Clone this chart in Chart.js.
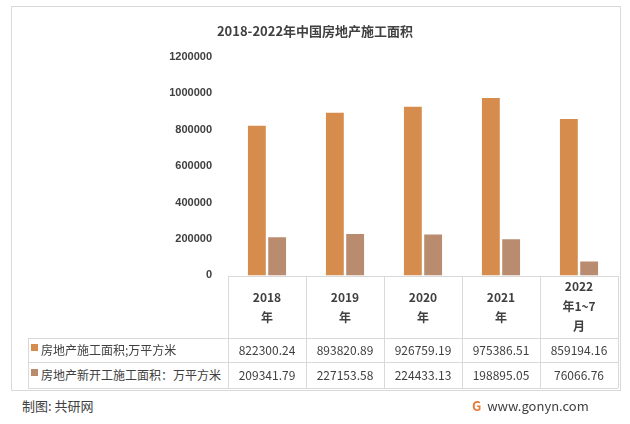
<!DOCTYPE html><html><head><meta charset="utf-8"><script src="https://cdn.jsdelivr.net/npm/chart.js@4"></script>
<style>body{margin:0;width:630px;height:424px;position:relative;font-family:"Noto Sans CJK SC","Noto Sans",sans-serif;background:#fff;overflow:hidden}
#box{position:absolute;left:11px;top:6px;width:608px;height:383px;border:1px solid #d9d9d9}
#c{position:absolute;left:0;top:0}
#title{position:absolute;left:0;width:630px;top:21px;text-align:center;font-weight:bold;font-size:13px;color:#404040}
.t{position:absolute;font-size:12px;color:#404040;text-align:center}
.v{position:absolute;background:#d9d9d9;width:1px}.h{position:absolute;background:#d9d9d9;height:1px}
</style></head><body><div id="box"></div>
<canvas id="c" width="630" height="290" style="width:630px;height:290px"></canvas>
<div id="title">2018-2022年中国房地产施工面积</div><div id="tbl"></div>
<div class="t" style="left:22px;top:396px;font-size:13px;text-align:left">制图: 共研网</div>
<div class="t" style="left:472px;top:396px;font-size:13px;text-align:left"><span style="color:#e87b3a;font-weight:bold">G</span>&nbsp; www.gonyn.com</div>
<script>
const categories=["2018\n年","2019\n年","2020\n年","2021\n年","2022\n年1~7\n月"];
const seriesNames=["房地产施工面积;万平方米","房地产新开工施工面积：万平方米"];
const s1=[822300.24,893820.89,926759.19,975386.51,859194.16];
const s2=[209341.79,227153.58,224433.13,198895.05,76066.76];
const colors=["#D58C4C","#B98C70"];
new Chart(document.getElementById('c'),{type:'bar',data:{labels:categories,datasets:[
{label:seriesNames[0],data:s1,backgroundColor:colors[0],categoryPercentage:0.52,barPercentage:0.88},
{label:seriesNames[1],data:s2,backgroundColor:colors[1],categoryPercentage:0.52,barPercentage:0.88}]},
options:{responsive:false,animation:false,plugins:{legend:{display:false},tooltip:{enabled:false}},
layout:{padding:{top:57,bottom:14,right:12,left:0}},
scales:{x:{display:false},
y:{min:0,max:1200000,ticks:{stepSize:200000,padding:8,color:'#404040',font:{size:11,weight:'bold'},callback:v=>String(v)},grid:{display:false},border:{display:false},afterFit:s=>{s.width=228}}}}});
const T=document.getElementById('tbl');let h='';const x0=228,w=78;
const add=s=>h+=s;
for(let i=0;i<=5;i++)add(`<div class="v" style="left:${x0+i*w}px;top:276px;height:112px"></div>`);
add(`<div class="v" style="left:28px;top:338px;height:50px"></div>`);
[338,362,388].forEach(y=>add(`<div class="h" style="left:28px;width:${618-28}px;top:${y}px"></div>`));
add(`<div class="h" style="left:${x0}px;width:${618-x0}px;top:276px"></div>`);
categories.forEach((c,i)=>{const lines=c.split('\n');const top=lines.length==3?276:287;
add(`<div class="t" style="left:${x0+i*w}px;width:${w}px;top:${top}px;line-height:20px;font-weight:bold">${lines.join('<br>')}</div>`);
add(`<div class="t" style="left:${x0+i*w}px;width:${w}px;top:341px">${s1[i].toFixed(2)}</div>`);
add(`<div class="t" style="left:${x0+i*w}px;width:${w}px;top:366px">${s2[i].toFixed(2)}</div>`);});
seriesNames.forEach((n,j)=>add(`<div class="t" style="left:31px;top:${j?366:341}px;text-align:left"><span style="display:inline-block;width:7px;height:7px;background:${colors[j]};vertical-align:top;margin-top:3px;margin-right:3px"></span>${n}</div>`));
T.innerHTML=h;
</script></body></html>
